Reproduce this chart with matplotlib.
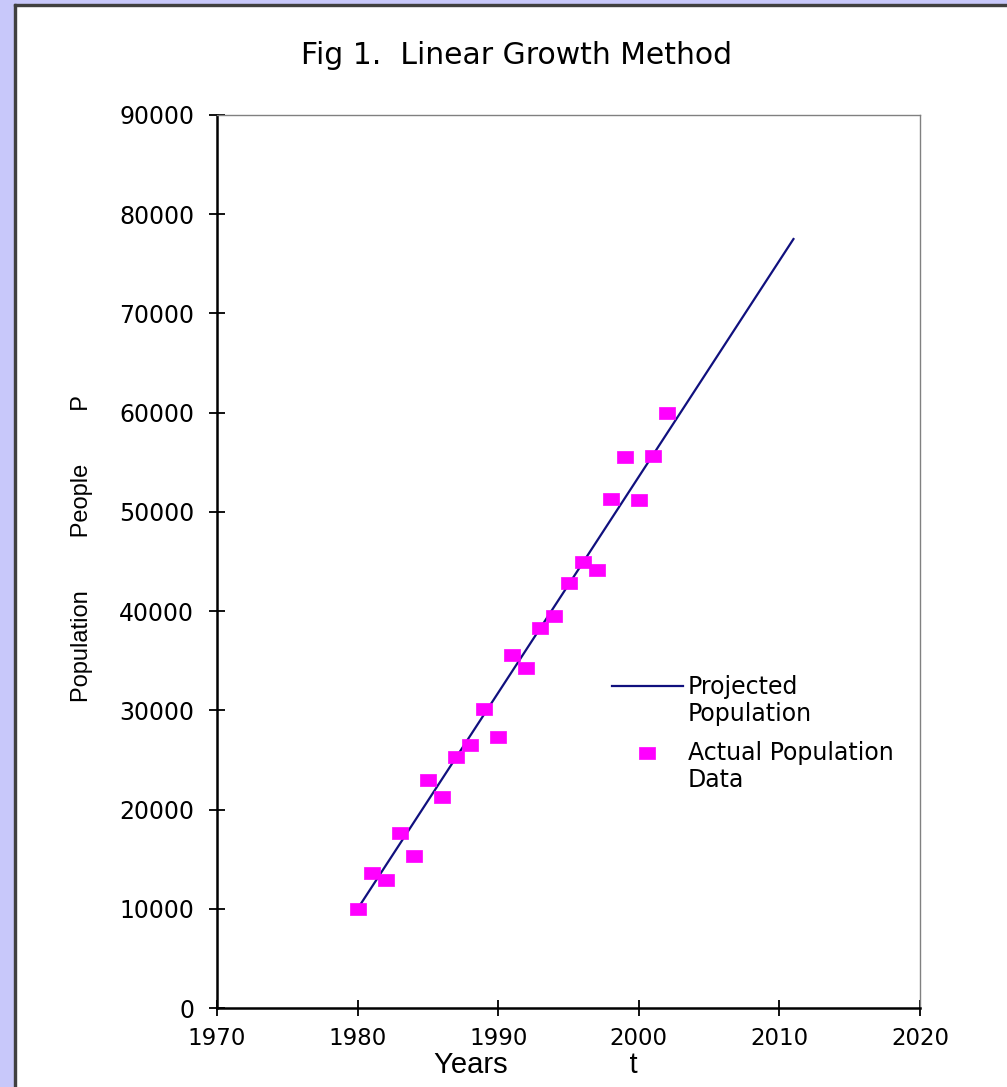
import matplotlib
matplotlib.use("Agg")
import matplotlib.pyplot as plt
from matplotlib.patches import Rectangle
from matplotlib.legend_handler import HandlerLine2D

# actual population data
years = [1980, 1981, 1982, 1983, 1984, 1985, 1986, 1987, 1988, 1989, 1990, 1991,
         1992, 1993, 1994, 1995, 1996, 1997, 1998, 1999, 2000, 2001, 2002]
population = [10000, 13600, 12900, 17600, 15300, 23000, 21300, 25300, 26500, 30100,
              27300, 35600, 34300, 38300, 39500, 42800, 45000, 44100, 51300, 55500,
              51200, 55600, 60000]

# projected linear growth
proj_years = [1980, 2011]
proj_pop = [10000, 77500]

x_ticks = [1970, 1980, 1990, 2000, 2010, 2020]
y_ticks = [0, 10000, 20000, 30000, 40000, 50000, 60000, 70000, 80000, 90000]


class FirstLineHandler(HandlerLine2D):
    # put the legend key next to the first line of a two-line label
    def create_artists(self, legend, orig_handle, xdescent, ydescent, width, height,
                       fontsize, trans):
        arts = super().create_artists(legend, orig_handle, xdescent, ydescent, width,
                                      height, fontsize, trans)
        for a in arts:
            a.set_ydata([y + 11 for y in a.get_ydata()])
        return arts


W, H = 1007, 1087
fig = plt.figure(figsize=(W / 100, H / 100), dpi=100)
fig.patch.set_facecolor("white")

# lavender frame on the left / top edges
lav = "#c8c8fa"
fig.patches.append(Rectangle((0, 0), 14 / W, 1, transform=fig.transFigure, color=lav, zorder=0))
fig.patches.append(Rectangle((0, 1 - 4 / H), 1, 4 / H, transform=fig.transFigure, color=lav, zorder=0))
fig.patches.append(Rectangle((14 / W, 0), 2 / W, 1 - 4 / H, transform=fig.transFigure, color="#404040", zorder=0))
fig.patches.append(Rectangle((14 / W, 1 - 6 / H), 1 - 14 / W, 2 / H, transform=fig.transFigure, color="#404040", zorder=0))

ax = fig.add_axes([217 / W, 1 - 1008 / H, 703 / W, 893 / H])

rect = [(-1, -0.69), (1, -0.69), (1, 0.69), (-1, 0.69), (-1, -0.69)]
ax.plot(proj_years, proj_pop, color="#10107e", lw=1.6, label="Projected\nPopulation")
ax.plot(years, population, ls="none", marker=rect, ms=11.5, mfc="#ff00ff", mec="#ff00ff",
        mew=0.5, label="Actual Population\nData")

ax.set_xlim(1970, 2020)
ax.set_ylim(0, 90000)
ax.set_xticks(x_ticks)
ax.set_yticks(y_ticks)
ax.tick_params(direction="inout", length=11, width=1.3, color="black")
ax.tick_params(axis="x", labelsize=16.5, pad=8)
ax.tick_params(axis="y", labelsize=17, pad=11)
for lab in ax.get_xticklabels() + ax.get_yticklabels():
    lab.set_family("DejaVu Sans")

for side in ["left", "bottom"]:
    ax.spines[side].set_linewidth(1.8)
    ax.spines[side].set_color("black")
for side in ["top", "right"]:
    ax.spines[side].set_linewidth(1.0)
    ax.spines[side].set_color("#808080")

fig.text(517 / W, 1 - 55 / H, "Fig 1.  Linear Growth Method", ha="center", va="center",
         fontsize=21.5, family="DejaVu Sans")

ax.set_xlabel("Years               t", fontsize=21, family="Liberation Sans", va="top")
ax.xaxis.set_label_coords((536 - 217) / 703, -(1051 - 1008) / 893)
ax.set_ylabel("Population        People        P", fontsize=17, family="Liberation Sans")
ax.yaxis.set_label_coords(-(217 - 93) / 703, (1008 - 549) / 893)

leg = ax.legend(loc="upper left", bbox_to_anchor=((612 - 217) / 703, (1008 - 675) / 893),
                frameon=False, prop={"family": "DejaVu Sans", "size": 17},
                handlelength=3.0, handletextpad=0.22, labelspacing=0.65,
                borderpad=0, borderaxespad=0,
                handler_map={matplotlib.lines.Line2D: FirstLineHandler()})
for t in leg.get_texts():
    t.set_linespacing(1.15)

fig.savefig("out.png", dpi=100)
